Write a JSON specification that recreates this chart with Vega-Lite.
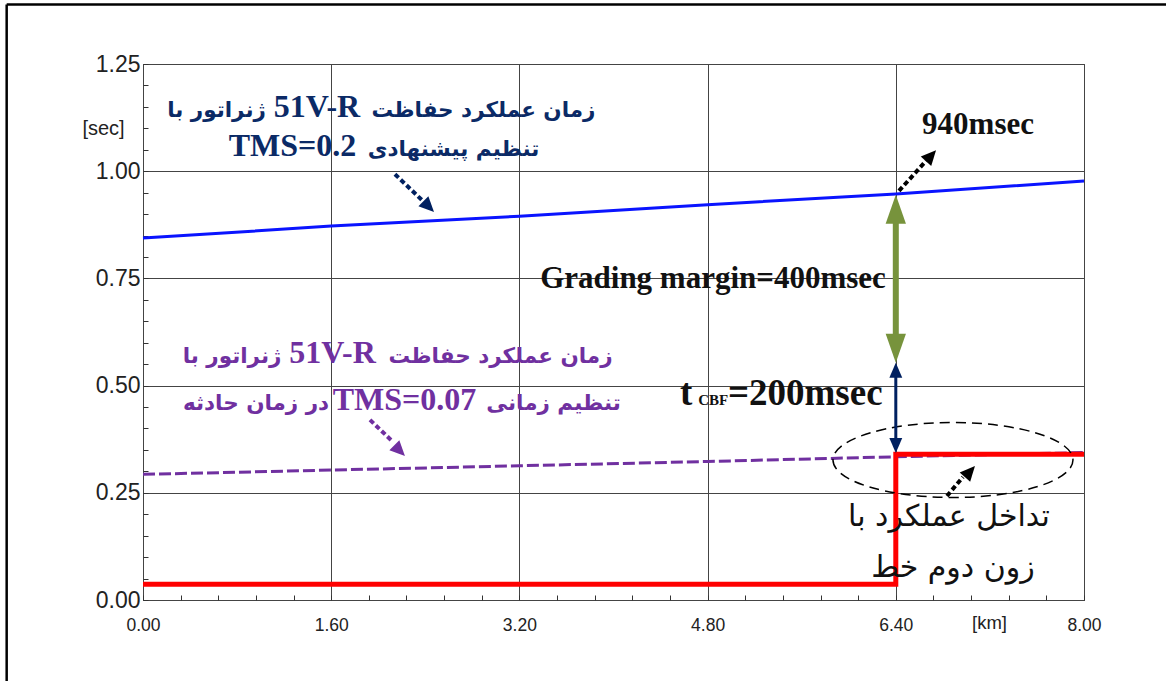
{
  "$schema": "https://vega.github.io/schema/vega-lite/v6.json",
  "width": 941,
  "height": 536,
  "autosize": {"type": "none"},
  "padding": {"left": 143, "top": 64, "right": 82, "bottom": 81},
  "background": "white",
  "config": {
    "view": {"stroke": "#333", "strokeWidth": 1},
    "legend": {"disable": true}
  },
  "datasets": {
    "curves": [
      {"s": "blue", "km": 0, "t": 0.844, "ord": 1},
      {"s": "blue", "km": 1.6, "t": 0.872, "ord": 2},
      {"s": "blue", "km": 3.2, "t": 0.895, "ord": 3},
      {"s": "blue", "km": 4.8, "t": 0.922, "ord": 4},
      {"s": "blue", "km": 6.4, "t": 0.947, "ord": 5},
      {"s": "blue", "km": 8, "t": 0.977, "ord": 6},
      {"s": "purple", "km": 0, "t": 0.293, "ord": 1},
      {"s": "purple", "km": 1.6, "t": 0.303, "ord": 2},
      {"s": "purple", "km": 3.2, "t": 0.313, "ord": 3},
      {"s": "purple", "km": 4.8, "t": 0.323, "ord": 4},
      {"s": "purple", "km": 6.4, "t": 0.334, "ord": 5},
      {"s": "purple", "km": 8, "t": 0.344, "ord": 6},
      {"s": "red", "km": 0, "t": 0.037, "ord": 1},
      {"s": "red", "km": 6.4, "t": 0.037, "ord": 2},
      {"s": "red", "km": 6.4, "t": 0.34, "ord": 3},
      {"s": "red", "km": 8, "t": 0.34, "ord": 4}
    ],
    "frame": [
      {"km": -1.159, "km2": 8.8, "t": 1.389, "t2": 1.389},
      {"km": -1.159, "km2": -1.159, "t": 1.389, "t2": -0.2}
    ],
    "shafts": [
      {"a": "green", "km": 6.4, "t": 0.885, "ord": 1},
      {"a": "green", "km": 6.4, "t": 0.615, "ord": 2},
      {"a": "navy", "km": 6.4, "t": 0.522, "ord": 1},
      {"a": "navy", "km": 6.4, "t": 0.374, "ord": 2},
      {"a": "d940", "km": 6.427, "t": 0.954, "ord": 1},
      {"a": "d940", "km": 6.657, "t": 1.024, "ord": 2},
      {"a": "dtms", "km": 2.142, "t": 0.993, "ord": 1},
      {"a": "dtms", "km": 2.389, "t": 0.928, "ord": 2},
      {"a": "dpur", "km": 1.93, "t": 0.42, "ord": 1},
      {"a": "dpur", "km": 2.117, "t": 0.371, "ord": 2},
      {"a": "dell", "km": 6.835, "t": 0.2425, "ord": 1},
      {"a": "dell", "km": 6.971, "t": 0.287, "ord": 2}
    ],
    "heads": [
      {"a": "green", "dir": "up", "km": 6.4, "t": 0.945},
      {"a": "green", "dir": "down", "km": 6.4, "t": 0.553},
      {"a": "navy", "dir": "up", "km": 6.4, "t": 0.553},
      {"a": "navy", "dir": "down", "km": 6.4, "t": 0.343},
      {"a": "d940", "dir": "ne", "km": 6.742, "t": 1.049},
      {"a": "dtms", "dir": "se", "km": 2.474, "t": 0.905},
      {"a": "dpur", "dir": "se", "km": 2.227, "t": 0.336},
      {"a": "dell", "dir": "ne", "km": 7.073, "t": 0.3125}
    ],
    "ellipse": [
      {"km": 6.886, "t": 0.3265}
    ],
    "labels": [
      {"g": "pblue", "km": 2.895, "t": 1.1264, "text": "زمان عملکرد حفاظت"},
      {"g": "lblue", "km": 1.479, "t": 1.1264, "text": "51V-R"},
      {"g": "pblue", "km": 0.625, "t": 1.1264, "text": "ژنراتور با"},
      {"g": "pblue", "km": 2.64, "t": 1.0354, "text": "تنظیم پیشنهادی"},
      {"g": "lblue", "km": 1.271, "t": 1.0354, "text": "TMS=0.2"},
      {"g": "ppur", "km": 3.04, "t": 0.5527, "text": "زمان عملکرد حفاظت"},
      {"g": "lpur", "km": 1.611, "t": 0.5527, "text": "51V-R"},
      {"g": "ppur", "km": 0.757, "t": 0.5527, "text": "ژنراتور با"},
      {"g": "ppur", "km": 3.49, "t": 0.4431, "text": "تنظیم زمانی"},
      {"g": "lpur", "km": 2.223, "t": 0.4431, "text": "TMS=0.07"},
      {"g": "ppur", "km": 0.961, "t": 0.4431, "text": "در زمان حادثه"},
      {"g": "bold", "km": 7.099, "t": 1.108, "text": "940msec"},
      {"g": "bold", "km": 4.846, "t": 0.749, "text": "Grading margin=400msec"},
      {"g": "tbig", "km": 4.565, "t": 0.455, "text": "t"},
      {"g": "tbig", "km": 4.973, "t": 0.455, "text": "=200msec"},
      {"g": "tsmall", "km": 4.72, "t": 0.455, "text": "CBF"},
      {"g": "note", "km": 6.852, "t": 0.194, "text": "تداخل عملکرد با"},
      {"g": "note", "km": 6.886, "t": 0.075, "text": "زون دوم خط"}
    ]
  },
  "encoding": {
    "x": {
      "field": "km",
      "type": "quantitative",
      "scale": {"domain": [0, 8], "nice": false, "zero": false},
      "axis": {
        "values": [0, 0.32, 0.64, 0.96, 1.28, 1.6, 1.92, 2.24, 2.56, 2.88, 3.2, 3.52, 3.84, 4.16, 4.48, 4.8, 5.12, 5.44, 5.76, 6.08, 6.4, 6.72, 7.04, 7.36, 7.68, 8],
        "labelExpr": "abs(datum.value/1.6-round(datum.value/1.6))<0.001 ? format(datum.value,'.2f') : ''",
        "grid": true,
        "gridColor": "#444",
        "gridWidth": 1,
        "gridOpacity": {"condition": {"test": "abs(datum.value/1.6-round(datum.value/1.6))<0.001", "value": 1}, "value": 0},
        "domain": false,
        "ticks": true,
        "tickSize": -5,
        "tickColor": "#333",
        "labelPadding": 21,
        "labelFont": "Liberation Sans",
        "labelFontSize": 17.5,
        "labelColor": "#222",
        "labelFlush": false,
        "labelOverlap": false,
        "title": "[km]",
        "titleX": 846,
        "titleY": 22,
        "titleAlign": "center",
        "titleBaseline": "middle",
        "titleFont": "Liberation Sans",
        "titleFontSize": 18.5,
        "titleFontWeight": "normal",
        "titleColor": "#222"
      }
    },
    "y": {
      "field": "t",
      "type": "quantitative",
      "scale": {"domain": [0, 1.25], "nice": false, "zero": false},
      "axis": {
        "values": [0, 0.05, 0.1, 0.15, 0.2, 0.25, 0.3, 0.35, 0.4, 0.45, 0.5, 0.55, 0.6, 0.65, 0.7, 0.75, 0.8, 0.85, 0.9, 0.95, 1, 1.05, 1.1, 1.15, 1.2, 1.25],
        "labelExpr": "abs(datum.value*4-round(datum.value*4))<0.001 ? format(datum.value,'.2f') : ''",
        "grid": true,
        "gridColor": "#444",
        "gridWidth": 1,
        "gridOpacity": {"condition": {"test": "abs(datum.value*4-round(datum.value*4))<0.001", "value": 1}, "value": 0},
        "domain": false,
        "ticks": true,
        "tickSize": -5,
        "tickColor": "#333",
        "labelPadding": 8,
        "labelFont": "Liberation Sans",
        "labelFontSize": 23,
        "labelColor": "#222",
        "labelFlush": false,
        "labelOverlap": false,
        "title": "[sec]",
        "titleAngle": 0,
        "titleX": -40,
        "titleY": 64,
        "titleAlign": "center",
        "titleBaseline": "middle",
        "titleFont": "Liberation Sans",
        "titleFontSize": 20,
        "titleFontWeight": "normal",
        "titleColor": "#222"
      }
    }
  },
  "layer": [
    {
      "data": {"name": "frame"},
      "mark": {"type": "rule", "color": "black", "strokeWidth": 2.5, "clip": false},
      "encoding": {"x2": {"field": "km2"}, "y2": {"field": "t2"}}
    },
    {
      "data": {"name": "curves"},
      "transform": [{"filter": "datum.s=='blue'"}],
      "mark": {"type": "line", "color": "#0a14ff", "strokeWidth": 3},
      "encoding": {"order": {"field": "ord", "type": "quantitative"}}
    },
    {
      "data": {"name": "curves"},
      "transform": [{"filter": "datum.s=='purple'"}],
      "mark": {"type": "line", "color": "#7030a0", "strokeWidth": 3, "strokeDash": [12, 4]},
      "encoding": {"order": {"field": "ord", "type": "quantitative"}}
    },
    {
      "data": {"name": "curves"},
      "transform": [{"filter": "datum.s=='red'"}],
      "mark": {"type": "line", "color": "#ff0000", "strokeWidth": 5, "strokeJoin": "miter"},
      "encoding": {"order": {"field": "ord", "type": "quantitative"}}
    },
    {
      "data": {"name": "ellipse"},
      "mark": {"type": "point", "shape": "M -1 0 A 1 0.3125 0 1 0 1 0 A 1 0.3125 0 1 0 -1 0 Z", "size": 57600, "filled": false, "stroke": "black", "strokeWidth": 1.5, "strokeDash": [10, 6], "opacity": 1}
    },
    {
      "data": {"name": "shafts"},
      "transform": [{"filter": "datum.a=='green'"}],
      "mark": {"type": "line", "color": "#77933c", "strokeWidth": 6, "strokeCap": "butt"},
      "encoding": {"order": {"field": "ord", "type": "quantitative"}}
    },
    {
      "data": {"name": "shafts"},
      "transform": [{"filter": "datum.a=='navy'"}],
      "mark": {"type": "line", "color": "#002060", "strokeWidth": 3, "strokeCap": "butt"},
      "encoding": {"order": {"field": "ord", "type": "quantitative"}}
    },
    {
      "data": {"name": "shafts"},
      "transform": [{"filter": "datum.a!='green' && datum.a!='navy'"}],
      "mark": {"type": "line", "strokeWidth": 4, "strokeDash": [5, 3], "strokeCap": "butt"},
      "encoding": {
        "detail": {"field": "a", "type": "nominal"},
        "order": {"field": "ord", "type": "quantitative"},
        "color": {"field": "a", "type": "nominal", "scale": {"domain": ["d940", "dtms", "dpur", "dell"], "range": ["#000000", "#002060", "#7030a0", "#000000"]}, "legend": null}
      }
    },
    {
      "data": {"name": "heads"},
      "transform": [{"filter": "datum.a=='green' && datum.dir=='up'"}],
      "mark": {"type": "point", "shape": "M 0 0 L 0.35 1 L -0.35 1 Z", "size": 3364, "filled": true, "color": "#77933c", "opacity": 1, "strokeWidth": 0}
    },
    {
      "data": {"name": "heads"},
      "transform": [{"filter": "datum.a=='green' && datum.dir=='down'"}],
      "mark": {"type": "point", "shape": "M 0 0 L 0.35 -1 L -0.35 -1 Z", "size": 3364, "filled": true, "color": "#77933c", "opacity": 1, "strokeWidth": 0}
    },
    {
      "data": {"name": "heads"},
      "transform": [{"filter": "datum.a=='navy' && datum.dir=='up'"}],
      "mark": {"type": "point", "shape": "M 0 0 L 0.43 1 L -0.43 1 Z", "size": 900, "filled": true, "color": "#002060", "opacity": 1, "strokeWidth": 0}
    },
    {
      "data": {"name": "heads"},
      "transform": [{"filter": "datum.a=='navy' && datum.dir=='down'"}],
      "mark": {"type": "point", "shape": "M 0 0 L 0.43 -1 L -0.43 -1 Z", "size": 900, "filled": true, "color": "#002060", "opacity": 1, "strokeWidth": 0}
    },
    {
      "data": {"name": "heads"},
      "transform": [{"filter": "datum.dir=='ne'"}],
      "mark": {"type": "point", "shape": "M 0 0 L 0.47 1 L -0.47 1 Z", "size": 900, "filled": true, "opacity": 1, "strokeWidth": 0, "angle": 42},
      "encoding": {
        "color": {"field": "a", "type": "nominal", "scale": {"domain": ["d940", "dtms", "dpur", "dell"], "range": ["#000000", "#002060", "#7030a0", "#000000"]}, "legend": null}
      }
    },
    {
      "data": {"name": "heads"},
      "transform": [{"filter": "datum.dir=='se'"}],
      "mark": {"type": "point", "shape": "M 0 0 L 0.47 1 L -0.47 1 Z", "size": 900, "filled": true, "opacity": 1, "strokeWidth": 0, "angle": 135},
      "encoding": {
        "color": {"field": "a", "type": "nominal", "scale": {"domain": ["d940", "dtms", "dpur", "dell"], "range": ["#000000", "#002060", "#7030a0", "#000000"]}, "legend": null}
      }
    },
    {
      "data": {"name": "labels"},
      "transform": [{"filter": "datum.g=='pblue'"}],
      "mark": {"type": "text", "font": "DejaVu Sans", "fontWeight": "bold", "fontSize": 21.5, "color": "#0b2a66", "align": "center", "baseline": "alphabetic"},
      "encoding": {"text": {"field": "text"}}
    },
    {
      "data": {"name": "labels"},
      "transform": [{"filter": "datum.g=='lblue'"}],
      "mark": {"type": "text", "font": "Liberation Serif", "fontWeight": "bold", "fontSize": 32, "color": "#0b2a66", "align": "center", "baseline": "alphabetic"},
      "encoding": {"text": {"field": "text"}}
    },
    {
      "data": {"name": "labels"},
      "transform": [{"filter": "datum.g=='ppur'"}],
      "mark": {"type": "text", "font": "DejaVu Sans", "fontWeight": "bold", "fontSize": 21.5, "color": "#7030a0", "align": "center", "baseline": "alphabetic"},
      "encoding": {"text": {"field": "text"}}
    },
    {
      "data": {"name": "labels"},
      "transform": [{"filter": "datum.g=='lpur'"}],
      "mark": {"type": "text", "font": "Liberation Serif", "fontWeight": "bold", "fontSize": 32, "color": "#7030a0", "align": "center", "baseline": "alphabetic"},
      "encoding": {"text": {"field": "text"}}
    },
    {
      "data": {"name": "labels"},
      "transform": [{"filter": "datum.g=='bold'"}],
      "mark": {"type": "text", "font": "Liberation Serif", "fontWeight": "bold", "fontSize": 31, "color": "#111", "align": "center", "baseline": "middle"},
      "encoding": {"text": {"field": "text"}}
    },
    {
      "data": {"name": "labels"},
      "transform": [{"filter": "datum.g=='tbig'"}],
      "mark": {"type": "text", "font": "Liberation Serif", "fontWeight": "bold", "fontSize": 37, "color": "#111", "align": "left", "baseline": "alphabetic"},
      "encoding": {"text": {"field": "text"}}
    },
    {
      "data": {"name": "labels"},
      "transform": [{"filter": "datum.g=='tsmall'"}],
      "mark": {"type": "text", "font": "Liberation Serif", "fontWeight": "bold", "fontSize": 15, "color": "#111", "align": "left", "baseline": "alphabetic"},
      "encoding": {"text": {"field": "text"}}
    },
    {
      "data": {"name": "labels"},
      "transform": [{"filter": "datum.g=='note'"}],
      "mark": {"type": "text", "font": "DejaVu Sans", "fontWeight": "normal", "fontSize": 30, "color": "#111", "align": "center", "baseline": "middle"},
      "encoding": {"text": {"field": "text"}}
    }
  ]
}
